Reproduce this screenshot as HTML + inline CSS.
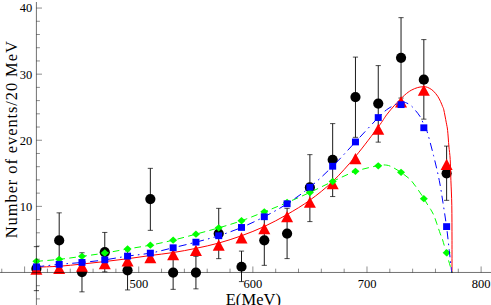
<!DOCTYPE html>
<html><head><meta charset="utf-8"><title>chart</title><style>html,body{margin:0;padding:0;background:#fff;overflow:hidden}svg{display:block}</style></head><body>
<svg width="491" height="305" viewBox="0 0 491 305">
<rect width="491" height="305" fill="#fff"/>
<g transform="translate(0 0.35)">
<g stroke="#000" stroke-width="0.9" fill="none">
<path d="M36.40 246.30 V290.30" stroke-width="0.3"/>
<path d="M59.19 212.50 V268.00"/>
<path d="M81.98 252.40 V291.50"/>
<path d="M104.77 232.10 V271.50"/>
<path d="M127.56 250.50 V289.60"/>
<path d="M150.35 168.00 V230.00"/>
<path d="M173.14 255.50 V289.00"/>
<path d="M195.93 256.00 V288.50"/>
<path d="M218.72 208.00 V258.30"/>
<path d="M241.51 250.75 V281.25"/>
<path d="M264.30 215.00 V265.00"/>
<path d="M287.09 208.00 V258.25"/>
<path d="M309.88 154.30 V221.25"/>
<path d="M332.67 123.25 V196.20"/>
<path d="M355.46 56.75 V137.00"/>
<path d="M378.25 65.25 V141.80"/>
<path d="M401.04 17.30 V97.70"/>
<path d="M423.83 39.25 V118.80"/>
<path d="M446.62 145.75 V200.00"/>
</g>
<g stroke="#000" stroke-width="0.7" fill="none">
<path d="M33.80 246.30 h5.2 M33.80 290.30 h5.2"/>
<path d="M56.59 212.50 h5.2 M56.59 268.00 h5.2"/>
<path d="M79.38 252.40 h5.2 M79.38 291.50 h5.2"/>
<path d="M102.17 232.10 h5.2 M102.17 271.50 h5.2"/>
<path d="M124.96 250.50 h5.2 M124.96 289.60 h5.2"/>
<path d="M147.75 168.00 h5.2 M147.75 230.00 h5.2"/>
<path d="M170.54 255.50 h5.2 M170.54 289.00 h5.2"/>
<path d="M193.33 256.00 h5.2 M193.33 288.50 h5.2"/>
<path d="M216.12 208.00 h5.2 M216.12 258.30 h5.2"/>
<path d="M238.91 250.75 h5.2 M238.91 281.25 h5.2"/>
<path d="M261.70 215.00 h5.2 M261.70 265.00 h5.2"/>
<path d="M284.49 208.00 h5.2 M284.49 258.25 h5.2"/>
<path d="M307.28 154.30 h5.2 M307.28 221.25 h5.2"/>
<path d="M330.07 123.25 h5.2 M330.07 196.20 h5.2"/>
<path d="M352.86 56.75 h5.2 M352.86 137.00 h5.2"/>
<path d="M375.65 65.25 h5.2 M375.65 141.80 h5.2"/>
<path d="M398.44 17.30 h5.2 M398.44 97.70 h5.2"/>
<path d="M421.23 39.25 h5.2 M421.23 118.80 h5.2"/>
<path d="M444.02 145.75 h5.2 M444.02 200.00 h5.2"/>
</g>
<g fill="#000">
<circle cx="36.40" cy="268.30" r="5.1"/>
<circle cx="59.19" cy="240.10" r="5.1"/>
<circle cx="81.98" cy="271.70" r="5.1"/>
<circle cx="104.77" cy="251.80" r="5.1"/>
<circle cx="127.56" cy="270.00" r="5.1"/>
<circle cx="150.35" cy="198.75" r="5.1"/>
<circle cx="173.14" cy="272.25" r="5.1"/>
<circle cx="195.93" cy="272.25" r="5.1"/>
<circle cx="218.72" cy="233.20" r="5.1"/>
<circle cx="241.51" cy="266.40" r="5.1"/>
<circle cx="264.30" cy="240.00" r="5.1"/>
<circle cx="287.09" cy="233.25" r="5.1"/>
<circle cx="309.88" cy="187.10" r="5.1"/>
<circle cx="332.67" cy="159.40" r="5.1"/>
<circle cx="355.46" cy="96.75" r="5.1"/>
<circle cx="378.25" cy="103.25" r="5.1"/>
<circle cx="401.04" cy="57.50" r="5.1"/>
<circle cx="423.83" cy="79.30" r="5.1"/>
<circle cx="446.62" cy="173.00" r="5.1"/>
</g>
<path d="M36.40 266.80 C40.20 266.65 51.59 266.42 59.19 265.90 C66.79 265.38 74.38 264.48 81.98 263.70 C89.58 262.92 97.17 262.08 104.77 261.20 C112.37 260.32 119.96 259.41 127.56 258.40 C135.16 257.39 142.75 256.18 150.35 255.15 C157.95 254.12 165.54 253.39 173.14 252.20 C180.74 251.01 188.33 249.58 195.93 248.00 C203.53 246.42 211.12 244.80 218.72 242.70 C226.32 240.60 233.91 238.16 241.51 235.40 C249.11 232.64 256.70 229.69 264.30 226.15 C271.90 222.61 279.49 218.54 287.09 214.15 C294.69 209.76 302.28 205.31 309.88 199.80 C317.48 194.29 325.07 188.38 332.67 181.10 C340.27 173.82 347.84 165.22 355.46 156.10 C363.08 146.98 373.21 133.33 378.40 126.40 C383.59 119.47 383.87 118.12 386.60 114.50 C389.33 110.88 391.80 107.98 394.80 104.70 C397.80 101.42 401.87 97.27 404.60 94.80 C407.33 92.33 409.02 91.17 411.20 89.90 C413.38 88.63 415.90 87.77 417.70 87.20 C419.50 86.63 420.70 86.63 422.00 86.50 C423.30 86.37 424.20 86.13 425.50 86.40 C426.80 86.67 428.43 87.33 429.80 88.10 C431.17 88.87 432.38 89.70 433.70 91.00 C435.02 92.30 436.55 94.18 437.70 95.90 C438.85 97.62 439.78 99.58 440.60 101.30 C441.42 103.02 442.07 104.83 442.60 106.20 C443.13 107.57 443.18 106.80 443.80 109.50 C444.42 112.20 445.67 118.98 446.30 122.40 C446.93 125.82 447.17 126.07 447.60 130.00 C448.03 133.93 448.47 141.17 448.90 146.00 C449.33 150.83 449.87 153.33 450.20 159.00 C450.53 164.67 450.63 172.33 450.90 180.00 C451.17 187.67 451.62 195.00 451.80 205.00 C451.98 215.00 451.97 228.77 452.00 240.00 C452.03 251.23 452.00 267.00 452.00 272.40" fill="none" stroke="#ff0000" stroke-width="1"/>
<g fill="#ff0000">
<path d="M30.40 274.50 L42.40 274.50 L36.40 263.30Z"/>
<path d="M53.19 273.60 L65.19 273.60 L59.19 262.40Z"/>
<path d="M75.98 271.40 L87.98 271.40 L81.98 260.20Z"/>
<path d="M98.77 268.90 L110.77 268.90 L104.77 257.70Z"/>
<path d="M121.56 266.10 L133.56 266.10 L127.56 254.90Z"/>
<path d="M144.35 262.85 L156.35 262.85 L150.35 251.65Z"/>
<path d="M167.14 259.90 L179.14 259.90 L173.14 248.70Z"/>
<path d="M189.93 255.70 L201.93 255.70 L195.93 244.50Z"/>
<path d="M212.72 250.40 L224.72 250.40 L218.72 239.20Z"/>
<path d="M235.51 243.10 L247.51 243.10 L241.51 231.90Z"/>
<path d="M258.30 233.85 L270.30 233.85 L264.30 222.65Z"/>
<path d="M281.09 221.85 L293.09 221.85 L287.09 210.65Z"/>
<path d="M303.88 207.50 L315.88 207.50 L309.88 196.30Z"/>
<path d="M326.67 188.80 L338.67 188.80 L332.67 177.60Z"/>
<path d="M349.46 163.80 L361.46 163.80 L355.46 152.60Z"/>
<path d="M372.25 134.50 L384.25 134.50 L378.25 123.30Z"/>
<path d="M395.04 107.10 L407.04 107.10 L401.04 95.90Z"/>
<path d="M417.83 95.50 L429.83 95.50 L423.83 84.30Z"/>
<path d="M440.62 169.60 L452.62 169.60 L446.62 158.40Z"/>
</g>
<path d="M36.40 261.00 C40.20 260.67 51.59 259.83 59.19 259.00 C66.79 258.17 74.38 257.05 81.98 256.00 C89.58 254.95 97.17 253.93 104.77 252.70 C112.37 251.47 119.96 249.92 127.56 248.60 C135.16 247.28 142.75 246.27 150.35 244.80 C157.95 243.33 165.54 241.63 173.14 239.80 C180.74 237.97 188.33 235.85 195.93 233.80 C203.53 231.75 211.12 229.73 218.72 227.50 C226.32 225.27 233.91 223.07 241.51 220.40 C249.11 217.73 256.70 214.53 264.30 211.50 C271.90 208.47 279.49 205.43 287.09 202.20 C294.69 198.97 302.28 195.62 309.88 192.10 C317.48 188.58 325.07 184.62 332.67 181.10 C340.27 177.58 347.85 173.65 355.46 171.00 C363.06 168.35 373.54 166.27 378.30 165.20 C383.06 164.13 381.97 164.48 384.00 164.60 C386.03 164.72 387.68 164.67 390.50 165.90 C393.32 167.13 397.57 169.73 400.90 172.00 C404.23 174.27 407.65 176.62 410.50 179.50 C413.35 182.38 415.75 186.17 418.00 189.30 C420.25 192.43 422.47 195.90 424.00 198.30 C425.53 200.70 426.07 201.87 427.20 203.70 C428.33 205.53 429.70 207.43 430.80 209.30 C431.90 211.17 432.78 212.53 433.80 214.90 C434.82 217.27 435.82 220.40 436.90 223.50 C437.98 226.60 439.35 230.83 440.30 233.50 C441.25 236.17 441.60 236.33 442.60 239.50 C443.60 242.67 445.02 248.08 446.30 252.50 C447.58 256.92 449.35 262.68 450.30 266.00 C451.25 269.32 451.72 271.33 452.00 272.40" fill="none" stroke="#00ff00" stroke-width="1" stroke-dasharray="6.7 4.3"/>
<g fill="#00ff00">
<path d="M32.40 261.00 L36.40 257.30 L40.40 261.00 L36.40 264.70Z"/>
<path d="M55.19 259.00 L59.19 255.30 L63.19 259.00 L59.19 262.70Z"/>
<path d="M77.98 256.00 L81.98 252.30 L85.98 256.00 L81.98 259.70Z"/>
<path d="M100.77 252.70 L104.77 249.00 L108.77 252.70 L104.77 256.40Z"/>
<path d="M123.56 248.60 L127.56 244.90 L131.56 248.60 L127.56 252.30Z"/>
<path d="M146.35 244.80 L150.35 241.10 L154.35 244.80 L150.35 248.50Z"/>
<path d="M169.14 239.80 L173.14 236.10 L177.14 239.80 L173.14 243.50Z"/>
<path d="M191.93 233.80 L195.93 230.10 L199.93 233.80 L195.93 237.50Z"/>
<path d="M214.72 227.50 L218.72 223.80 L222.72 227.50 L218.72 231.20Z"/>
<path d="M237.51 220.40 L241.51 216.70 L245.51 220.40 L241.51 224.10Z"/>
<path d="M260.30 211.50 L264.30 207.80 L268.30 211.50 L264.30 215.20Z"/>
<path d="M283.09 202.20 L287.09 198.50 L291.09 202.20 L287.09 205.90Z"/>
<path d="M305.88 192.10 L309.88 188.40 L313.88 192.10 L309.88 195.80Z"/>
<path d="M328.67 181.10 L332.67 177.40 L336.67 181.10 L332.67 184.80Z"/>
<path d="M351.46 171.00 L355.46 167.30 L359.46 171.00 L355.46 174.70Z"/>
<path d="M374.25 165.50 L378.25 161.80 L382.25 165.50 L378.25 169.20Z"/>
<path d="M397.04 172.00 L401.04 168.30 L405.04 172.00 L401.04 175.70Z"/>
<path d="M419.83 198.30 L423.83 194.60 L427.83 198.30 L423.83 202.00Z"/>
<path d="M442.62 252.40 L446.62 248.70 L450.62 252.40 L446.62 256.10Z"/>
</g>
<path d="M36.40 266.50 C40.20 266.08 51.59 264.73 59.19 264.00 C66.79 263.27 74.38 262.85 81.98 262.10 C89.58 261.35 97.17 260.56 104.77 259.50 C112.37 258.44 119.96 256.88 127.56 255.75 C135.16 254.62 142.75 254.14 150.35 252.75 C157.95 251.36 165.54 249.22 173.14 247.40 C180.74 245.58 188.33 243.80 195.93 241.80 C203.53 239.80 211.12 237.85 218.72 235.40 C226.32 232.95 233.91 230.27 241.51 227.10 C249.11 223.93 256.70 220.35 264.30 216.40 C271.90 212.45 279.49 208.32 287.09 203.40 C294.69 198.48 302.28 193.15 309.88 186.90 C317.48 180.65 325.07 173.45 332.67 165.90 C340.27 158.35 347.86 149.72 355.46 141.60 C363.06 133.48 373.08 122.55 378.25 117.20 C383.42 111.85 383.88 111.53 386.50 109.50 C389.12 107.47 391.58 106.20 394.00 105.00 C396.42 103.80 399.08 102.77 401.00 102.30 C402.92 101.83 403.83 101.70 405.50 102.20 C407.17 102.70 409.42 104.07 411.00 105.30 C412.58 106.53 413.50 107.80 415.00 109.60 C416.50 111.40 418.50 113.62 420.00 116.10 C421.50 118.58 422.88 122.18 424.00 124.50 C425.12 126.82 425.17 124.92 426.75 130.00 C428.33 135.08 431.42 146.67 433.50 155.00 C435.58 163.33 437.67 172.08 439.25 180.00 C440.83 187.92 441.79 194.83 443.00 202.50 C444.21 210.17 445.46 218.08 446.50 226.00 C447.54 233.92 448.46 243.00 449.25 250.00 C450.04 257.00 450.83 264.27 451.25 268.00 C451.67 271.73 451.67 271.67 451.75 272.40" fill="none" stroke="#0000ff" stroke-width="1" stroke-dasharray="8 4.2 1.6 4.2"/>
<g fill="#0000ff">
<rect x="32.90" y="263.10" width="7" height="6.8"/>
<rect x="55.69" y="260.60" width="7" height="6.8"/>
<rect x="78.48" y="258.70" width="7" height="6.8"/>
<rect x="101.27" y="256.10" width="7" height="6.8"/>
<rect x="124.06" y="252.35" width="7" height="6.8"/>
<rect x="146.85" y="249.35" width="7" height="6.8"/>
<rect x="169.64" y="244.00" width="7" height="6.8"/>
<rect x="192.43" y="238.40" width="7" height="6.8"/>
<rect x="215.22" y="232.00" width="7" height="6.8"/>
<rect x="238.01" y="223.70" width="7" height="6.8"/>
<rect x="260.80" y="213.00" width="7" height="6.8"/>
<rect x="283.59" y="200.00" width="7" height="6.8"/>
<rect x="306.38" y="183.50" width="7" height="6.8"/>
<rect x="329.17" y="162.50" width="7" height="6.8"/>
<rect x="351.96" y="138.20" width="7" height="6.8"/>
<rect x="374.75" y="113.80" width="7" height="6.8"/>
<rect x="397.54" y="100.90" width="7" height="6.8"/>
<rect x="420.33" y="124.00" width="7" height="6.8"/>
<rect x="443.12" y="222.85" width="7" height="6.8"/>
</g>
</g>
<g stroke="#000" stroke-width="0.56" fill="none">
<path d="M0 272.46 H491"/>
<path d="M36.40 2 V305"/>
</g>
<g stroke="#000" stroke-width="0.45" fill="none">
<path d="M1.77 272.46 v-3.8 M24.60 272.46 v-6.0 M47.43 272.46 v-3.8 M70.25 272.46 v-3.8 M93.08 272.46 v-3.8 M115.90 272.46 v-3.8 M138.73 272.46 v-6.0 M161.56 272.46 v-3.8 M184.38 272.46 v-3.8 M207.21 272.46 v-3.8 M230.03 272.46 v-3.8 M252.86 272.46 v-6.0 M275.69 272.46 v-3.8 M298.51 272.46 v-3.8 M321.34 272.46 v-3.8 M344.16 272.46 v-3.8 M366.99 272.46 v-6.0 M389.82 272.46 v-3.8 M412.64 272.46 v-3.8 M435.47 272.46 v-3.8 M458.29 272.46 v-3.8 M481.12 272.46 v-6.0 "/>
<path d="M36.40 298.90 h3.5 M36.40 285.68 h3.5 M36.40 259.24 h3.5 M36.40 246.02 h3.5 M36.40 232.80 h3.5 M36.40 219.58 h3.5 M36.40 206.36 h5.6 M36.40 193.14 h3.5 M36.40 179.92 h3.5 M36.40 166.70 h3.5 M36.40 153.48 h3.5 M36.40 140.26 h5.6 M36.40 127.04 h3.5 M36.40 113.82 h3.5 M36.40 100.60 h3.5 M36.40 87.38 h3.5 M36.40 74.16 h5.6 M36.40 60.94 h3.5 M36.40 47.72 h3.5 M36.40 34.50 h3.5 M36.40 21.28 h3.5 M36.40 8.06 h5.6 "/>
</g>
<g fill="#000" font-family="'Liberation Serif', serif" font-size="12.5">
<text x="138.8" y="287.6" text-anchor="middle">500</text>
<text x="252.9" y="287.6" text-anchor="middle">600</text>
<text x="367.0" y="287.6" text-anchor="middle">700</text>
<text x="481.1" y="287.6" text-anchor="middle">800</text>
<text x="32.3" y="210.7" text-anchor="end">10</text>
<text x="32.3" y="144.6" text-anchor="end">20</text>
<text x="32.3" y="78.5" text-anchor="end">30</text>
<text x="32.3" y="12.4" text-anchor="end">40</text>
</g>
<g fill="#000" font-family="'Liberation Serif', serif" font-size="16.5">
<text x="225.7" y="304.6" textLength="55.4" lengthAdjust="spacing">E(MeV)</text>
<text transform="translate(16.7 238.2) rotate(-90)" x="0" y="0" textLength="197" lengthAdjust="spacing">Number of events/20 MeV</text>
</g>
</svg>
</body></html>
